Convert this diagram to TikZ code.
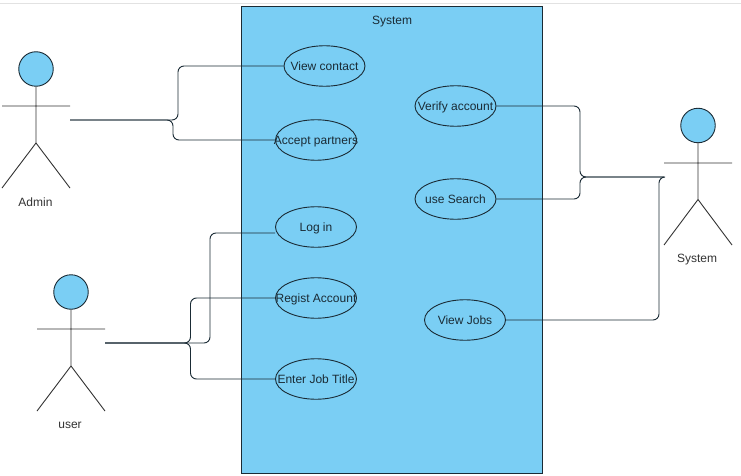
\documentclass[tikz,border=0pt]{standalone}
\usepackage{fontspec}
\setmainfont{Liberation Sans}
\usetikzlibrary{shapes.geometric}
\definecolor{fillblue}{HTML}{7ACEF4}
\definecolor{ink}{HTML}{1A2B35}
\definecolor{rulerline}{HTML}{E2E2E2}
\definecolor{graytext}{HTML}{333333}
\tikzset{
  x=1pt,y=-1pt,
  lbl/.style={inner sep=0pt,anchor=base,font=\fontsize{12}{14}\selectfont,text=graytext},
  uctext/.style={inner sep=0pt,font=\fontsize{12}{14}\selectfont,text=ink,text height=9.2pt,text depth=0pt},
  usecase/.style={ellipse,draw=ink,fill=fillblue,line width=0.9pt,minimum width=81pt,minimum height=40.5pt,inner sep=0pt,label={[uctext]center:#1}},
  head/.style={circle,draw=ink,fill=fillblue,line width=0.9pt,minimum size=34.5pt,inner sep=0pt},
  limb/.style={draw=graytext,line width=0.9pt},
  link/.style={draw=ink,line width=0.95pt,rounded corners=6pt},
}
\begin{document}
\begin{tikzpicture}
\useasboundingbox (0,0) rectangle (741,476);
\fill[white] (0,0) rectangle (741,476);
\draw[rulerline,line width=0.7pt] (0,3.5) -- (741,3.5);
\node[draw=ink,line width=1pt,fill=fillblue,minimum width=301pt,minimum height=466pt,inner sep=0pt] (sys) at (392,240) {};
\node[lbl,text=ink] (systitle) at (392,24.500) {System};
\node[usecase={View contact}] (view) at (324.5,66) {};
\node[usecase={Accept partners}] (accept) at (316,140) {};
\node[usecase={Log in}] (login) at (316,227) {};
\node[usecase={Regist Account}] (regist) at (316,298) {};
\node[usecase={Enter Job Title}] (enter) at (316,379) {};
\node[usecase={Verify account}] (verify) at (455.5,106) {};
\node[usecase={use Search}] (search) at (455.5,199) {};
\node[usecase={View Jobs}] (jobs) at (465,320) {};
% Admin
\node[head] (ahead) at (36,69) {};
\coordinate (ahip) at (36,143);
\coordinate (aL) at (2,106);
\coordinate (aR) at (70,106);
\coordinate (afl) at (2,188);
\coordinate (afr) at (70,188);
\coordinate (aport) at (70,120);
\draw[limb] (ahead) -- (ahip) (aL) -- (aR) (afl) -- (ahip) -- (afr);
\node[lbl] (alabel) at (35.5,206) {Admin};
% user
\node[head] (uhead) at (71,292) {};
\coordinate (uhip) at (71,366);
\coordinate (uL) at (37,329);
\coordinate (uR) at (105,329);
\coordinate (ufl) at (37,411);
\coordinate (ufr) at (105,411);
\coordinate (uport) at (105,343);
\draw[limb] (uhead) -- (uhip) (uL) -- (uR) (ufl) -- (uhip) -- (ufr);
\node[lbl] (ulabel) at (70,428.300) {user};
% System actor
\node[head] (shead) at (698,125.5) {};
\coordinate (ship) at (698,199.5);
\coordinate (sL) at (664,163);
\coordinate (sR) at (732,163);
\coordinate (sfl) at (664,245);
\coordinate (sfr) at (732,245);
\coordinate (sport) at (664,177);
\draw[limb] (shead) -- (ship) (sL) -- (sR) (sfl) -- (ship) -- (sfr);
\node[lbl] (slabel) at (697,262.500) {System};
% connectors
\draw[link] (aport) -- (178,120) -- (178,66) -- (view.west);
\draw[link] (aport) -- (173,120) -- (173,140) -- (accept.west);
\draw[link] (uport) -- (210,343) -- (210,233) -- (login.west |- 0,233);
\draw[link] (uport) -- (190.500,343) -- (190.500,298) -- (regist.west);
\draw[link] (uport) -- (190.500,343) -- (190.500,379) -- (enter.west);
\draw[link] (verify.east) -- (580,106) -- (580,177) -- (sport);
\draw[link] (search.east) -- (580,199) -- (580,177) -- (sport);
\draw[link] (jobs.east) -- (659,320) -- (659,177) -- (sport);
\end{tikzpicture}
\end{document}
